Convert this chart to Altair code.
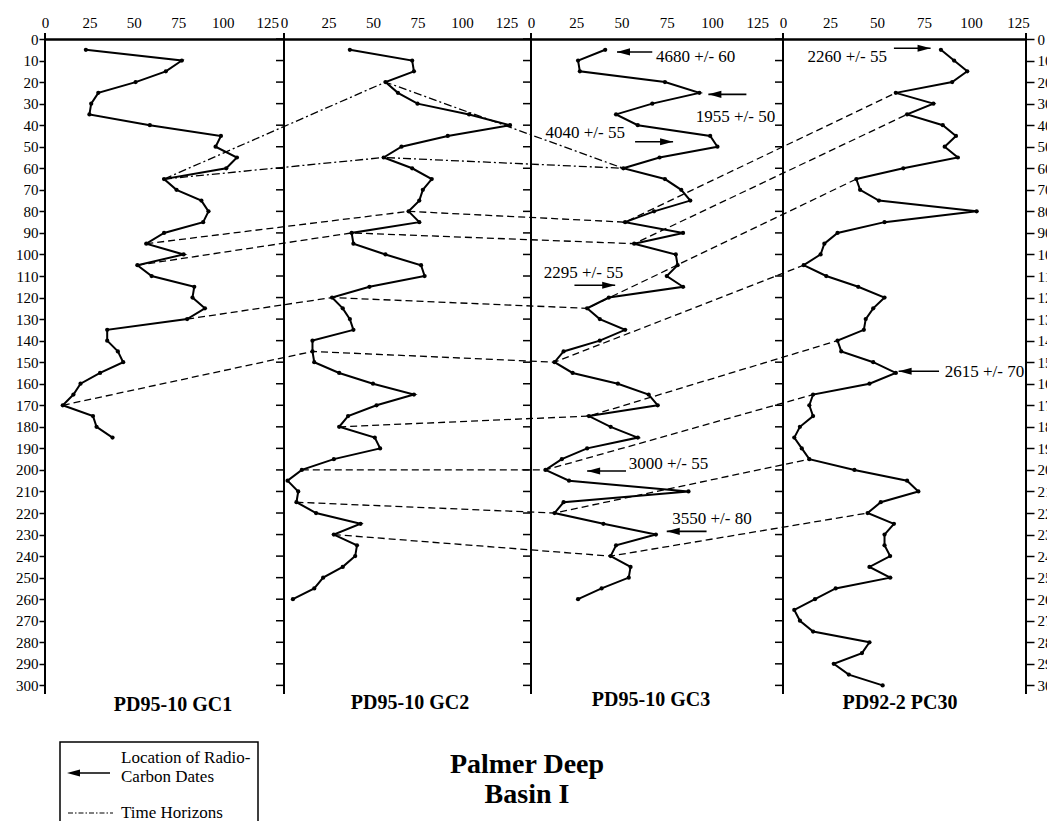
import altair as alt
import pandas as pd

# ---------------- data ----------------
CORE_KEYS = ["GC1", "GC2", "GC3", "PC30"]
CORE_NAMES = ["PD95-10 GC1", "PD95-10 GC2", "PD95-10 GC3", "PD92-2 PC30"]

GC1_DEPTH = [5, 10, 15, 20, 25, 30, 35, 40, 45, 50, 55, 60, 65, 70, 75, 80, 85, 90, 95, 100,
             105, 110, 115, 120, 125, 130, 135, 140, 145, 150, 155, 160, 165, 170, 175, 180, 185]
GC1_VALUE = [23, 77, 68, 51, 30, 26, 25, 59, 99, 96, 108, 102, 67, 74, 88, 92, 89, 67, 57, 78,
             52, 60, 84, 83, 90, 80, 35, 35, 41, 44, 31, 20, 16, 10, 27, 29, 38]

GC2_DEPTH = [5, 10, 15, 20, 25, 30, 35, 40, 45, 50, 55, 60, 65, 70, 75, 80, 85, 90, 95, 100,
             105, 110, 115, 120, 125, 130, 135, 140, 145, 150, 155, 160, 165, 170, 175, 180,
             185, 190, 195, 200, 205, 210, 215, 220, 225, 230, 235, 240, 245, 250, 255, 260]
GC2_VALUE = [37, 72, 73, 57, 64, 75, 104, 127, 92, 66, 56, 72, 83, 78, 76, 70, 76, 38, 39, 57,
             77, 79, 48, 27, 33, 37, 39, 16, 16, 17, 31, 50, 73, 52, 36, 31,
             51, 54, 28, 10, 2, 8, 7, 18, 43, 28, 41, 40, 33, 22, 17, 5]

GC3_DEPTH = [5, 10, 15, 20, 25, 30, 35, 40, 45, 50, 55, 60, 65, 70, 75, 80, 85, 90, 95, 100,
             105, 110, 115, 120, 125, 130, 135, 140, 145, 150, 155, 160, 165, 170, 175, 180,
             185, 190, 195, 200, 205, 210, 215, 220, 225, 230, 235, 240, 245, 250, 255, 260]
GC3_VALUE = [41, 26, 27, 74, 93, 67, 47, 59, 99, 103, 71, 51, 74, 83, 88, 68, 52, 84, 57, 80,
             81, 75, 84, 43, 31, 38, 52, 38, 18, 13, 23, 48, 65, 70, 32, 44,
             59, 31, 17, 8, 21, 87, 18, 13, 40, 69, 47, 44, 55, 54, 39, 26]

PC30_DEPTH = [5, 10, 15, 20, 25, 30, 35, 40, 45, 50, 55, 60, 65, 70, 75, 80, 85, 90, 95, 100,
              105, 110, 115, 120, 125, 130, 135, 140, 145, 150, 155, 160, 165, 170, 175, 180,
              185, 190, 195, 200, 205, 210, 215, 220, 225, 230, 235, 240, 245, 250, 255, 260,
              265, 270, 275, 280, 285, 290, 295, 300]
PC30_VALUE = [84, 91, 98, 90, 60, 80, 66, 85, 92, 86, 93, 64, 39, 41, 51, 103, 54, 29, 22, 20,
              11, 23, 40, 54, 48, 44, 43, 29, 31, 48, 60, 46, 16, 14, 16, 9,
              6, 10, 14, 38, 66, 72, 52, 45, 59, 54, 54, 57, 46, 57, 28, 17,
              6, 9, 16, 46, 42, 27, 35, 53]

# time horizons: (line style, [(core, depth), ...])
HORIZONS = [
    ("dashdot", [("GC1", 65), ("GC2", 20), ("GC3", 60)]),
    ("dashdot", [("GC1", 65), ("GC2", 55), ("GC3", 60)]),
    ("dashed", [("GC1", 95), ("GC2", 80), ("GC3", 85), ("PC30", 25)]),
    ("dashed", [("GC1", 105), ("GC2", 90), ("GC3", 95), ("PC30", 35)]),
    ("dashed", [("GC1", 130), ("GC2", 120), ("GC3", 125), ("PC30", 65)]),
    ("dashed", [("GC1", 170), ("GC2", 145), ("GC3", 150), ("PC30", 105)]),
    ("dashed", [("GC2", 180), ("GC3", 175), ("PC30", 140)]),
    ("dashed", [("GC2", 200), ("GC3", 200), ("PC30", 165)]),
    ("dashed", [("GC2", 215), ("GC3", 220), ("PC30", 195)]),
    ("dashed", [("GC2", 230), ("GC3", 240), ("PC30", 220)]),
]

# radiocarbon dates
DATE_TEXT = ["4680 +/- 60", "1955 +/- 50", "4040 +/- 55", "2295 +/- 55",
             "3000 +/- 55", "3550 +/- 80", "2260 +/- 55", "2615 +/- 70"]
DATE_CORE = ["GC3", "GC3", "GC3", "GC3", "GC3", "GC3", "PC30", "PC30"]
TEXT_VALUE = [69, 91, 8, 7, 54, 78, 13, 86]
TEXT_DEPTH = [8.4, 36, 43.8, 108.8, 197.4, 223, 8.2, 154.5]
ARROW_TAIL = [67, 119, 57.5, 24, 52.5, 97, 59, 83]
ARROW_TIP = [47.5, 98, 78.5, 46.5, 31, 75, 78.5, 61.5]
ARROW_DEPTH = [6, 25.7, 47.7, 114.3, 200.5, 228.5, 4.3, 154.2]
ARROW_DIR = ["left", "left", "right", "right", "left", "left", "right", "left"]

TOP_TICKS = [0, 25, 50, 75, 100, 125]
DEPTH_TICKS = list(range(0, 301, 10))

# ---------------- layout ----------------
PLOT_W, PLOT_H = 981, 655
DEPTH_MAX = 304
ORIGIN = {"GC1": 0, "GC2": 239, "GC3": 486, "PC30": 738}
PPU = {"GC1": 1.777, "GC2": 1.78, "GC3": 1.81, "PC30": 1.88}
BOUNDS = [0, 239, 486, 738, 981]
FONT = "Liberation Serif"


def gx_expr(field):
    parts = [f"datum.core === '{k}' ? ({ORIGIN[k]} + datum.{field} * {PPU[k]})" for k in CORE_KEYS]
    return " : ".join(parts) + " : 0"


X_SCALE = alt.Scale(domain=[0, PLOT_W], nice=False, zero=False)
Y_SCALE = alt.Scale(domain=[0, DEPTH_MAX], reverse=True, nice=False, zero=False)

series = {"GC1": (GC1_DEPTH, GC1_VALUE), "GC2": (GC2_DEPTH, GC2_VALUE),
          "GC3": (GC3_DEPTH, GC3_VALUE), "PC30": (PC30_DEPTH, PC30_VALUE)}
rows = []
for k in CORE_KEYS:
    d, v = series[k]
    for dd, vv in zip(d, v):
        rows.append({"core": k, "depth": dd, "value": vv})
cdf = pd.DataFrame(rows)

hrows = []
for hid, (style, pts) in enumerate(HORIZONS):
    for seq, (k, dep) in enumerate(pts):
        d, v = series[k]
        hrows.append({"hid": hid, "seq": seq, "core": k, "depth": dep,
                      "value": v[d.index(dep)], "style": style})
hdf = pd.DataFrame(hrows)

top_values = [round(ORIGIN[k] + t * PPU[k], 3) for k in CORE_KEYS for t in TOP_TICKS]
label_expr = ("datum.value < 235 ? round(datum.value / 1.777) : "
              "datum.value < 480 ? round((datum.value - 239) / 1.78) : "
              "datum.value < 730 ? round((datum.value - 486) / 1.81) : "
              "round((datum.value - 738) / 1.88)")

TOP_AXIS = alt.Axis(orient="top", values=top_values, labelExpr=label_expr, title=None,
                    grid=False, domain=True, domainWidth=2.5, domainColor="black",
                    ticks=False, labelPadding=9, labelFontSize=15, labelFont=FONT,
                    labelColor="black", labelOverlap=False, labelFlush=False, labelBound=False)
LEFT_AXIS = alt.Axis(orient="left", values=DEPTH_TICKS, title=None, grid=False, domain=False,
                     tickSize=6, tickWidth=1.5, tickColor="black", labelPadding=1,
                     labelFontSize=15, labelFont=FONT, labelColor="black",
                     labelOverlap=False, labelFlush=False)
RIGHT_AXIS = alt.Axis(orient="right", values=DEPTH_TICKS, title=None, grid=False, domain=False,
                      tickSize=8, tickWidth=1.5, tickColor="black", labelPadding=3,
                      labelFontSize=15, labelFont=FONT, labelColor="black",
                      labelOverlap=False, labelFlush=False)

# horizons
horizon_layer = alt.Chart(hdf).transform_calculate(gx=gx_expr("value")).mark_line(
    color="black", strokeWidth=1.3
).encode(
    x=alt.X("gx:Q", scale=X_SCALE, axis=None),
    y=alt.Y("depth:Q", scale=Y_SCALE, axis=None),
    detail="hid:N", order="seq:Q",
    strokeDash=alt.StrokeDash("style:N", scale=alt.Scale(domain=["dashdot", "dashed"],
                                                          range=[[8, 3, 2, 3], [7, 4]]), legend=None),
)

line_layer = alt.Chart(cdf).transform_calculate(gx=gx_expr("value")).mark_line(
    color="black", strokeWidth=2
).encode(
    x=alt.X("gx:Q", scale=X_SCALE, axis=TOP_AXIS),
    y=alt.Y("depth:Q", scale=Y_SCALE, axis=LEFT_AXIS),
    detail="core:N", order="depth:Q",
)
point_layer = alt.Chart(cdf).transform_calculate(gx=gx_expr("value")).mark_circle(
    color="black", size=18, opacity=1
).encode(
    x=alt.X("gx:Q", scale=X_SCALE, axis=None),
    y=alt.Y("depth:Q", scale=Y_SCALE, axis=None),
)

# panel boundary lines
bdf = pd.DataFrame({"gx": BOUNDS, "top": [-2.8] * 5, "bottom": [DEPTH_MAX] * 5})
bound_layer = alt.Chart(bdf).mark_rule(color="black", strokeWidth=2).encode(
    x=alt.X("gx:Q", scale=X_SCALE, axis=None),
    y=alt.Y("top:Q", scale=Y_SCALE, axis=None),
    y2="bottom:Q",
)

# interior ticks (and right-hand axis)
tdf = pd.DataFrame([{"gx": b, "depth": d} for b in BOUNDS[1:4] for d in DEPTH_TICKS])
tick_layer = alt.Chart(tdf).mark_tick(
    orient="horizontal", size=8, thickness=1.5, xOffset=-4, color="black", opacity=1
).encode(
    x=alt.X("gx:Q", scale=X_SCALE, axis=None),
    y=alt.Y("depth:Q", scale=Y_SCALE, axis=RIGHT_AXIS),
)

# radiocarbon dates
adf = pd.DataFrame({"core": DATE_CORE, "label": DATE_TEXT, "tv": TEXT_VALUE, "td": TEXT_DEPTH,
                    "tail": ARROW_TAIL, "tip": ARROW_TIP, "ad": ARROW_DEPTH, "dir": ARROW_DIR})
abase = alt.Chart(adf).transform_calculate(
    gtext=gx_expr("tv"), gtail=gx_expr("tail"), gtip=gx_expr("tip"))
text_layer = abase.mark_text(align="left", baseline="middle", font=FONT, fontSize=17,
                             color="black").encode(
    x=alt.X("gtext:Q", scale=X_SCALE, axis=None),
    y=alt.Y("td:Q", scale=Y_SCALE, axis=None),
    text="label:N",
)
shaft_layer = abase.mark_rule(color="black", strokeWidth=1.6).encode(
    x=alt.X("gtail:Q", scale=X_SCALE, axis=None),
    x2="gtip:Q",
    y=alt.Y("ad:Q", scale=Y_SCALE, axis=None),
)
LEFT_HEAD = "M -1 0 L 1 -0.55 L 1 0.55 Z"
RIGHT_HEAD = "M 1 0 L -1 -0.55 L -1 0.55 Z"
head_left = abase.transform_filter("datum.dir === 'left'").mark_point(
    shape=LEFT_HEAD, size=169, filled=True, color="black", opacity=1, xOffset=6.5
).encode(x=alt.X("gtip:Q", scale=X_SCALE, axis=None), y=alt.Y("ad:Q", scale=Y_SCALE, axis=None))
head_right = abase.transform_filter("datum.dir === 'right'").mark_point(
    shape=RIGHT_HEAD, size=169, filled=True, color="black", opacity=1, xOffset=-6.5
).encode(x=alt.X("gtip:Q", scale=X_SCALE, axis=None), y=alt.Y("ad:Q", scale=Y_SCALE, axis=None))

# static text / legend (pixel layout)
one = pd.DataFrame({"a": [0]})
PANEL_LABEL_POS = [(128, 666), (365, 664), (606, 661), (855, 664)]
static = []
for name, (px, py) in zip(CORE_NAMES, PANEL_LABEL_POS):
    static.append(alt.Chart(one).mark_text(text=name, font=FONT, fontSize=20, fontWeight="bold",
                                           color="black", align="center", baseline="middle"
                                           ).encode(x=alt.value(px), y=alt.value(py)))
for txt, py in [("Palmer Deep", 726), ("Basin I", 756)]:
    static.append(alt.Chart(one).mark_text(text=txt, font=FONT, fontSize=28, fontWeight="bold",
                                           color="black", align="center", baseline="middle"
                                           ).encode(x=alt.value(482), y=alt.value(py)))
static.append(alt.Chart(one).mark_rect(fillOpacity=0, stroke="black", strokeWidth=1.5).encode(
    x=alt.value(15), x2=alt.value(213), y=alt.value(703), y2=alt.value(800)))
static.append(alt.Chart(one).mark_rule(color="black", strokeWidth=1.6).encode(
    x=alt.value(28), x2=alt.value(65), y=alt.value(734)))
static.append(alt.Chart(one).mark_point(shape=LEFT_HEAD, size=169, filled=True, color="black",
                                        opacity=1).encode(x=alt.value(28.5), y=alt.value(734)))
static.append(alt.Chart(one).mark_rule(color="black", strokeWidth=1.2, strokeDash=[5, 2, 1.5, 2]).encode(
    x=alt.value(23), x2=alt.value(68), y=alt.value(774)))
for txt, py in [("Location of Radio-", 719), ("Carbon Dates", 738), ("Time Horizons", 774)]:
    static.append(alt.Chart(one).mark_text(text=txt, font=FONT, fontSize=17, color="black",
                                           align="left", baseline="middle"
                                           ).encode(x=alt.value(76), y=alt.value(py)))

chart = alt.layer(
    horizon_layer, bound_layer, tick_layer, line_layer, point_layer,
    shaft_layer, head_left, head_right, text_layer, *static
).resolve_axis(x="independent", y="independent").properties(
    width=PLOT_W, height=PLOT_H,
    autosize=alt.AutoSizeParams(type="none"),
    padding={"left": 37, "top": 31, "right": 21, "bottom": 127},
    background="white",
).configure_view(stroke=None).configure_axis(
    labelFont=FONT, labelColor="black", labelFontSize=15
)

chart.save("out.html", embed_options={"renderer": "svg", "actions": False})
